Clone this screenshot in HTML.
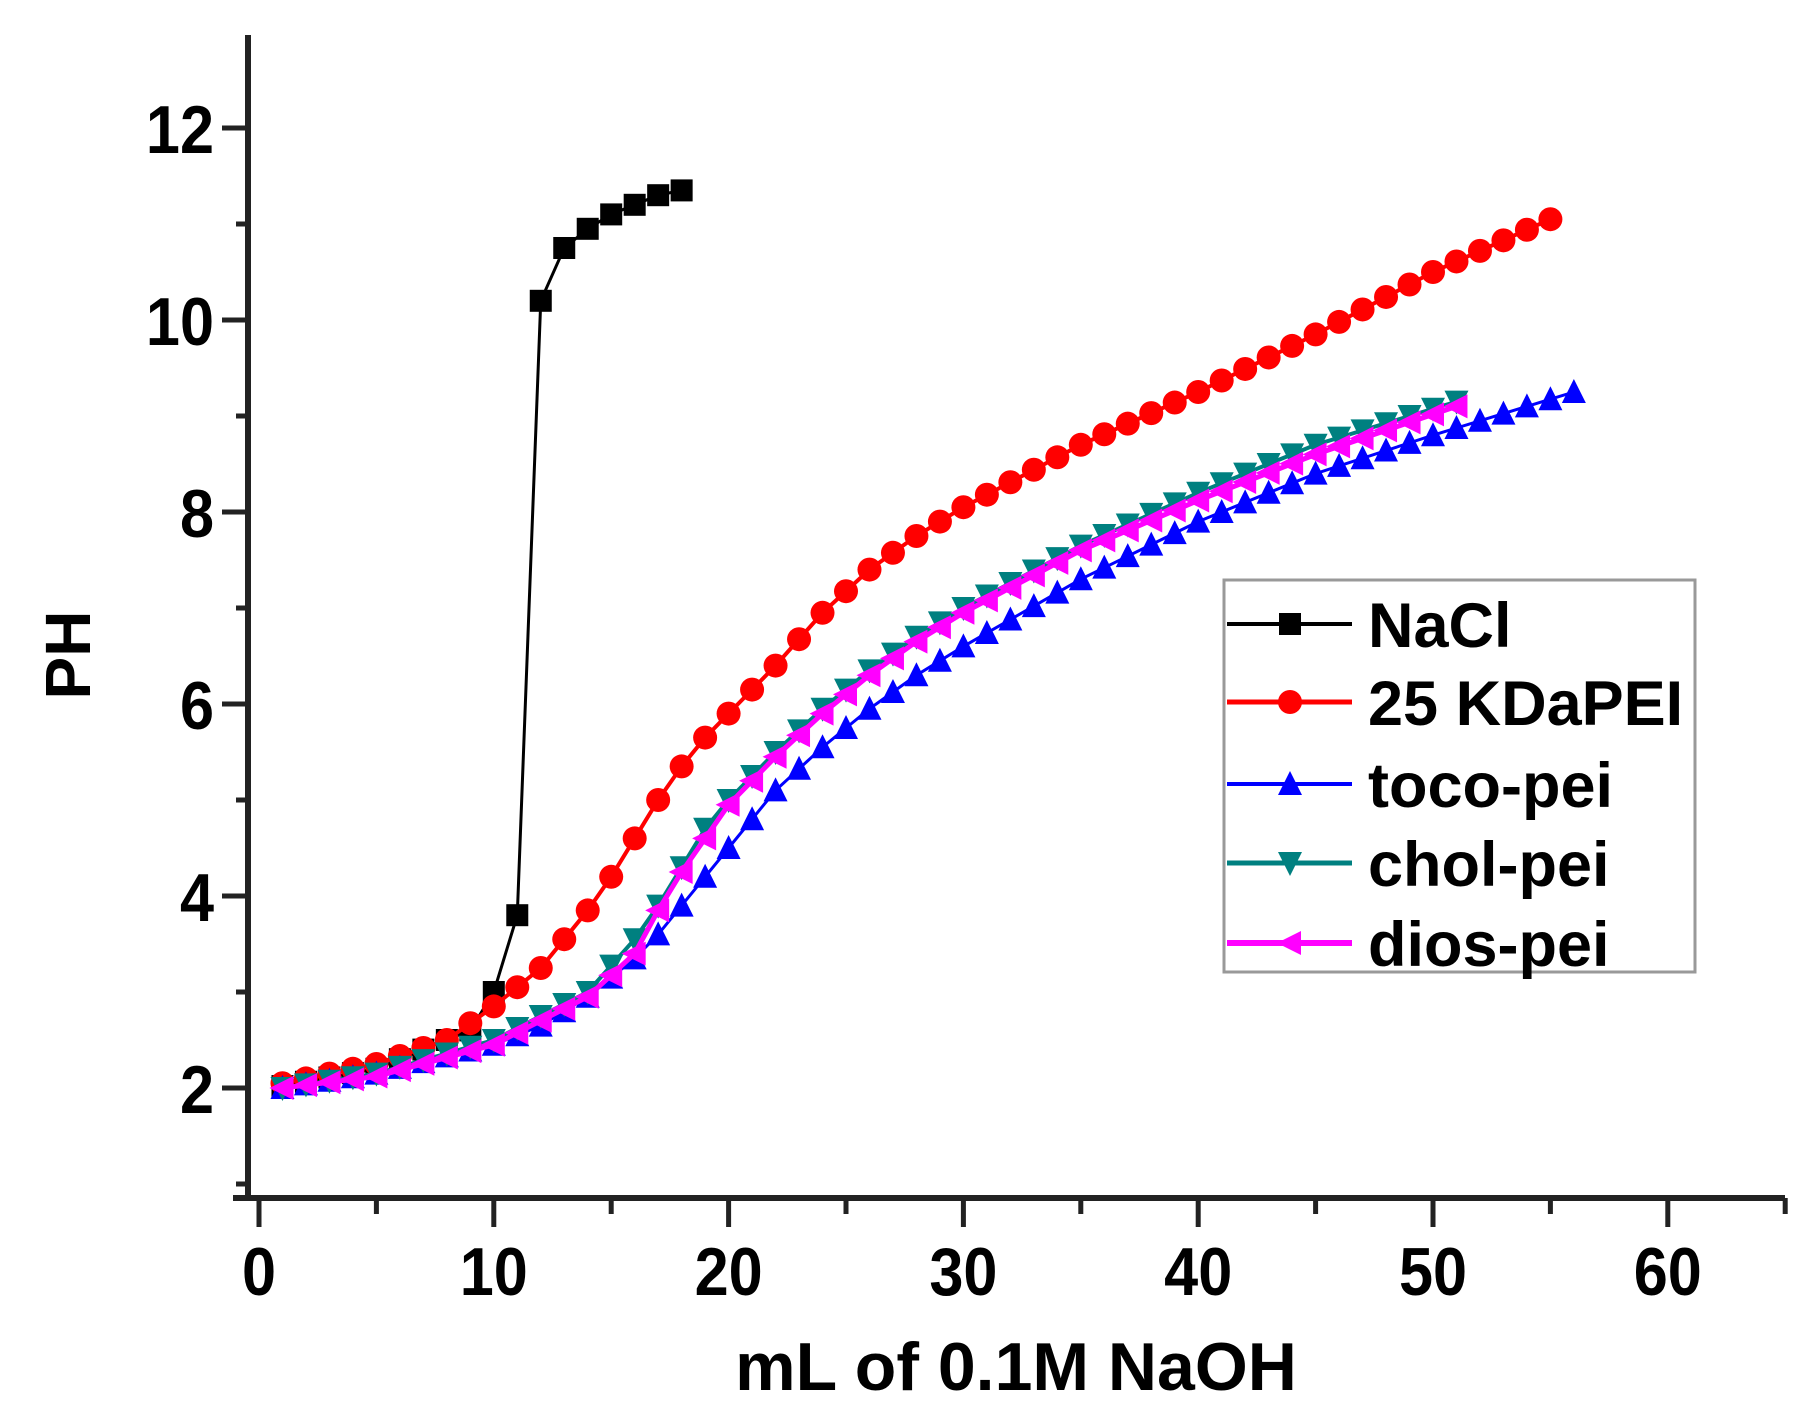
<!DOCTYPE html>
<html><head><meta charset="utf-8"><style>body{margin:0;background:#fff}svg{display:block}</style></head>
<body>
<svg id="s" width="1811" height="1423" xmlns="http://www.w3.org/2000/svg" font-family="Liberation Sans, sans-serif" font-weight="bold">
<rect width="1811" height="1423" fill="#fff"/>
<g stroke="#222" stroke-width="6" fill="none">
<line x1="248" y1="35" x2="248" y2="1201"/>
<line x1="233" y1="1198" x2="1785" y2="1198"/>
</g>
<g id="ticks" stroke="#222" stroke-width="5"></g>
<g id="tl" font-size="68" fill="#000"></g>
<text x="1016" y="1390" font-size="68" text-anchor="middle">mL of 0.1M NaOH</text>
<text transform="translate(90,655) rotate(-90)" font-size="64" text-anchor="middle">PH</text>
<g id="data"></g>
<rect x="1224" y="580" width="471" height="392" fill="#fff" stroke="#999" stroke-width="3"/>
<g id="leg" font-size="63"></g>
</svg>
<script>
const NS="http://www.w3.org/2000/svg";
const X=v=>259+v*23.48, Y=v=>1088-(v-2)*96;
function el(p,t,a,txt){const e=document.createElementNS(NS,t);for(const k in a)e.setAttribute(k,a[k]);if(txt!==undefined)e.textContent=txt;document.getElementById(p).appendChild(e);return e;}
for(let v=0;v<=65;v+=5){const x=X(v);el('ticks','line',{x1:x,y1:1198,x2:x,y2:v%10?1214:1227});if(v%10==0)el('tl','text',{x:x/0.9,y:1295,'text-anchor':'middle',transform:'scale(0.9,1)'},v);}
for(let v=1;v<=12.9;v+=1){const y=Y(v);el('ticks','line',{x1:248,y1:y,x2:v%2?236:222,y2:y});if(v%2==0)el('tl','text',{x:214/0.9,y:y+25,'text-anchor':'end',transform:'scale(0.9,1)'},v);}
function interp(k,x){for(let i=0;i<k.length-1;i++){if(x<=k[i+1][0]){const[a,b]=k[i],[c,d]=k[i+1];return b+(d-b)*(x-a)/(c-a);}}return k[k.length-1][1];}
function mk(g,type,x,y,c){const r=11;
 if(type=='sq')el(g,'rect',{x:x-r,y:y-r,width:2*r,height:2*r,fill:c});
 else if(type=='ci')el(g,'circle',{cx:x,cy:y,r:r+1,fill:c});
 else if(type=='up')el(g,'polygon',{points:`${x},${y-r-2} ${x+r+1},${y+r} ${x-r-1},${y+r}`,fill:c});
 else if(type=='dn')el(g,'polygon',{points:`${x},${y+r+2} ${x+r+1},${y-r} ${x-r-1},${y-r}`,fill:c});
 else el(g,'polygon',{points:`${x-r-2},${y} ${x+r},${y-r-1} ${x+r},${y+r+1}`,fill:c});}
const S=[
 {c:'#000',t:'sq',n:'NaCl',k:[[1,2.02],[5,2.2],[9,2.6],[10,3.0],[11,3.8],[12,10.2],[13,10.75],[14,10.95],[15,11.1],[16,11.2],[17,11.3],[18,11.35]],e:18,w:3},
 {c:'#f00',t:'ci',n:'25 KDaPEI',k:[[1,2.05],[5,2.25],[8,2.5],[10,2.85],[12,3.25],[14,3.85],[15,4.2],[16,4.6],[17,5.0],[18,5.35],[19,5.65],[20,5.9],[22,6.4],[24,6.95],[26,7.4],[28,7.75],[30,8.05],[35,8.7],[40,9.25],[45,9.85],[50,10.5],[55,11.05]],e:55,w:4},
 {c:'#00f',t:'up',n:'toco-pei',k:[[1,2.0],[5,2.15],[10,2.45],[12,2.65],[14,2.95],[16,3.35],[17,3.6],[18,3.9],[19,4.2],[20,4.5],[21,4.8],[22,5.1],[24,5.55],[26,5.95],[28,6.3],[30,6.6],[35,7.3],[40,7.9],[45,8.4],[50,8.8],[56,9.25]],e:56,w:3},
 {c:'#008080',t:'dn',n:'chol-pei',k:[[1,2.0],[5,2.15],[10,2.5],[14,3.0],[16,3.55],[17,3.9],[18,4.3],[19,4.7],[20,5.0],[22,5.5],[24,5.95],[26,6.35],[28,6.7],[30,7.0],[35,7.65],[40,8.2],[45,8.7],[51,9.15]],e:51,w:4},
 {c:'#f0f',t:'lt',n:'dios-pei',k:[[1,2.0],[5,2.12],[10,2.45],[14,2.95],[16,3.4],[17,3.85],[18,4.25],[19,4.6],[20,4.95],[22,5.45],[24,5.9],[26,6.3],[28,6.65],[30,6.95],[35,7.6],[40,8.12],[45,8.6],[51,9.1]],e:51,w:5}
];
S.forEach((s,i)=>{
 const g='data',pts=[];
 for(let x=1;x<=s.e;x++)pts.push([X(x),Y(interp(s.k,x))]);
 el(g,'polyline',{points:pts.map(p=>p.join(',')).join(' '),fill:'none',stroke:s.c,'stroke-width':s.w});
 pts.forEach(p=>mk(g,s.t,p[0],p[1],s.c));
 const ly=[624,702,784,863,943][i];
 el('leg','line',{x1:1227,y1:ly,x2:1352,y2:ly,stroke:s.c,'stroke-width':s.w+1});
 mk('leg',s.t,1290,ly,s.c);
 el('leg','text',{x:1368,y:ly+23,fill:'#000'},s.n);
});
</script>
</body></html>
